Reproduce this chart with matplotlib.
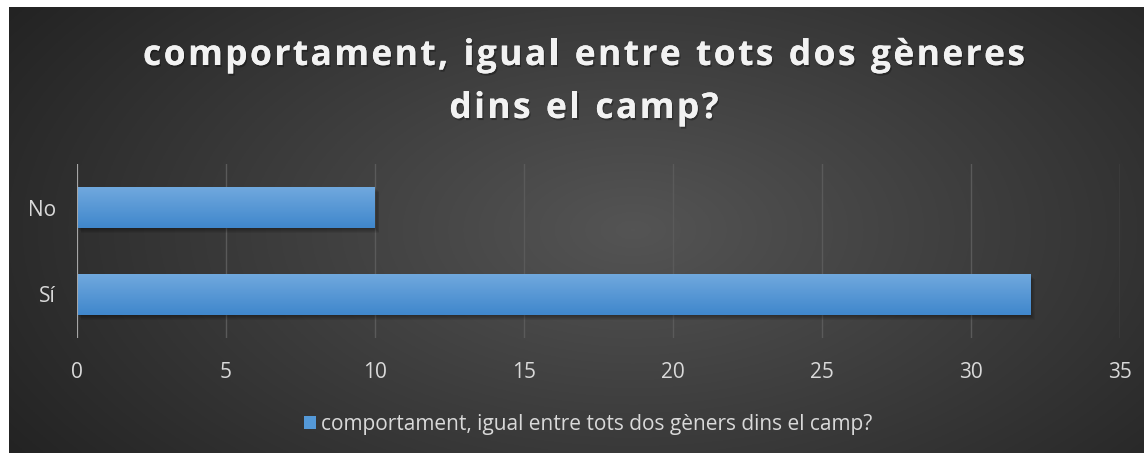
import numpy as np
import matplotlib.pyplot as plt
import matplotlib.patheffects as pe
from matplotlib.patches import Rectangle

categories = ['Sí', 'No']
values = [32, 10]
series_name = 'comportament, igual entre tots dos gèners dins el camp?'
title_lines = ['comportament, igual entre tots dos gèneres', 'dins el camp?']
xticks = [0, 5, 10, 15, 20, 25, 30, 35]

W, H = 1145, 453
fig = plt.figure(figsize=(W / 100, H / 100), dpi=100)
fig.patch.set_facecolor('white')

# fons amb degradat radial
bg = fig.add_axes([9 / W, 0, (W - 10) / W, (H - 7) / H])
bg.set_axis_off()
yy, xx = np.mgrid[0:1:300j, 0:1:700j]
r = np.sqrt(((xx - 0.55) / 0.65) ** 2 + ((yy - 0.5) / 0.9) ** 2)
shade = np.clip(0.33 - 0.19 * r, 0.14, 0.33)
bg.imshow(np.dstack([shade] * 3), aspect='auto', extent=[0, 1, 0, 1], origin='lower')
bg.set_xlim(0, 1)
bg.set_ylim(0, 1)

ax = fig.add_axes([77 / W, 1 - 338 / H, (1120 - 77) / W, 174 / H])
ax.patch.set_alpha(0)

ypos = np.arange(len(categories))
bars = ax.barh(ypos, values, height=0.47, color='#5499d8', zorder=3)

# degradat vertical a les barres + ombra suau
grad = np.linspace(0, 1, 64).reshape(-1, 1)
top = np.array([0.44, 0.66, 0.87])
bot = np.array([0.25, 0.53, 0.80])
img = top * (1 - grad[..., None]) + bot * grad[..., None]
for b in bars:
    x0, y0 = b.get_x(), b.get_y()
    w, h = b.get_width(), b.get_height()
    for k in range(1, 6):
        ax.add_patch(Rectangle((x0 + 0.03 * k, y0 - 0.012 * k), w, h, color='black',
                               alpha=0.07, zorder=2, lw=0))
    im = ax.imshow(img, extent=[x0, x0 + w, y0, y0 + h], aspect='auto', zorder=4)
    im.set_clip_path(b)
ax.set_xlim(0, 35)
ax.set_ylim(-0.5, 1.5)

ax.set_xticks(xticks)
ax.set_yticks(ypos)
ax.set_yticklabels(categories)
ax.grid(axis='x', color='#5a5a5a', lw=1, zorder=1)
ax.axvline(0, color='#a6a6a6', lw=1.5, zorder=5)
for s in ax.spines.values():
    s.set_visible(False)
ax.tick_params(length=0, colors='#d9d9d9', labelsize=15)
ax.tick_params(axis='x', pad=17)
ax.tick_params(axis='y', pad=15)
for lab in ax.get_xticklabels() + ax.get_yticklabels():
    lab.set_fontfamily('Open Sans')

# títol amb espaiat entre lletres
renderer = fig.canvas.get_renderer()
shadow = [pe.withSimplePatchShadow(offset=(1, -1.5), shadow_rgbFace='black', alpha=0.3), pe.Normal()]
line_y = [1 - 56 / H, 1 - 109 / H]
target_w = 882
fs = 25.5
gap = None
for line, ty in zip(title_lines, line_y):
    widths = []
    for ch in line:
        t = fig.text(0, 0, ch if ch != ' ' else 'n', fontsize=fs, fontweight='bold', family='Open Sans')
        bb = t.get_window_extent(renderer)
        widths.append(bb.width * (0.45 if ch == ' ' else 1))
        t.remove()
    if gap is None:
        gap = (target_w - sum(widths)) / (len(line) - 1)
    total = sum(widths) + gap * (len(line) - 1)
    x = 584 - total / 2
    for ch, wch in zip(line, widths):
        if ch != ' ':
            fig.text(x / W, ty, ch, fontsize=fs, fontweight='bold', family='Open Sans',
                     color='#f2f2f2', va='center', ha='left', path_effects=shadow)
        x += wch + gap

leg = ax.legend([bars[0]], [series_name], loc='center', bbox_to_anchor=(0.49, -0.495),
                frameon=False, handlelength=0.55, handleheight=0.55, handletextpad=0.25,
                prop={'family': 'Open Sans', 'size': 15})
for t in leg.get_texts():
    t.set_color('#d9d9d9')

fig.savefig('out.png', dpi=100, facecolor=fig.get_facecolor())
